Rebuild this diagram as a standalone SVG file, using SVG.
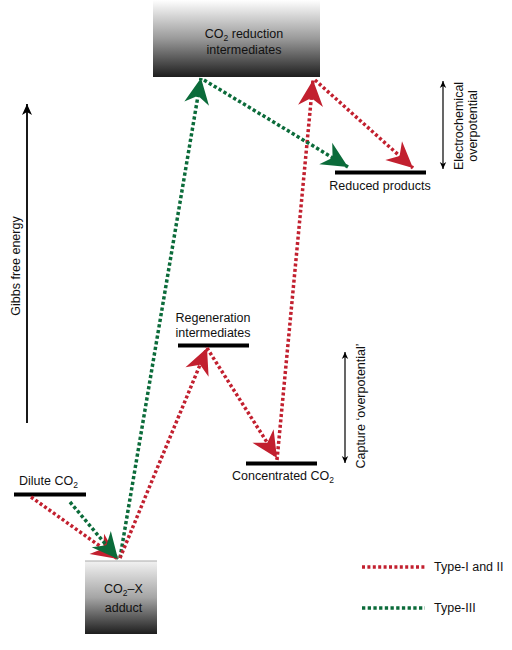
<svg xmlns="http://www.w3.org/2000/svg" width="512" height="650" viewBox="0 0 512 650">
<style>
text{font-family:"Liberation Sans",Arial,sans-serif;font-size:12.5px;fill:#111}
.bar{fill:#000}
.red{stroke:#c2202f;stroke-width:3.5;stroke-dasharray:3 2.4;fill:none}
.green{stroke:#0b6b3a;stroke-width:3.5;stroke-dasharray:3.3 2.4;fill:none}
.axis{stroke:#000;stroke-width:1.8;fill:none}
.thin{stroke:#000;stroke-width:1.2;fill:none}
</style>
<defs>
<linearGradient id="gTop" x1="0" y1="0" x2="0" y2="1">
<stop offset="0" stop-color="#ffffff"/>
<stop offset="0.5" stop-color="#9a9a9a"/>
<stop offset="1" stop-color="#1e1e1e"/>
</linearGradient>
<linearGradient id="gBot" x1="0" y1="0" x2="0" y2="1">
<stop offset="0" stop-color="#f2f2f2"/>
<stop offset="0.5" stop-color="#a5a5a5"/>
<stop offset="1" stop-color="#1e1e1e"/>
</linearGradient>
<marker id="aRed" markerUnits="userSpaceOnUse" viewBox="-27 -14 29 28" markerWidth="29" markerHeight="28" refX="0" refY="0" orient="auto">
<path d="M0,0 L-26,-12.5 L-18,0 L-26,12.5 Z" fill="#c2202f"/>
</marker>
<marker id="aGreen" markerUnits="userSpaceOnUse" viewBox="-27 -14 29 28" markerWidth="29" markerHeight="28" refX="0" refY="0" orient="auto">
<path d="M0,0 L-26,-12.5 L-18,0 L-26,12.5 Z" fill="#0b6b3a"/>
</marker>
<marker id="aBig" markerUnits="userSpaceOnUse" viewBox="-12 -6 13 12" markerWidth="13" markerHeight="12" refX="0" refY="0" orient="auto">
<path d="M0,0 L-11,-5 L-8,0 L-11,5 Z" fill="#000"/>
</marker>
<marker id="aSmall" markerUnits="userSpaceOnUse" viewBox="-8 -4 9 8" markerWidth="9" markerHeight="8" refX="0" refY="0" orient="auto-start-reverse">
<path d="M0,0 L-7,-3.2 L-5,0 L-7,3.2 Z" fill="#000"/>
</marker>
</defs>

<g id="co2-reduction-intermediates">
<rect x="153" y="0" width="167" height="77" fill="url(#gTop)"/>
<text x="244" y="38" text-anchor="middle">CO<tspan font-size="8.5" dy="3">2</tspan><tspan dy="-3"> reduction</tspan></text>
<text x="244" y="54" text-anchor="middle">intermediates</text>
</g>

<g id="reduced-products">
<rect class="bar" x="335" y="170.5" width="91" height="4"/>
<text x="380" y="190" text-anchor="middle">Reduced products</text>
</g>

<g id="regeneration-intermediates">
<rect class="bar" x="178" y="343.5" width="71" height="4"/>
<text x="213" y="322" text-anchor="middle">Regeneration</text>
<text x="213" y="337" text-anchor="middle">intermediates</text>
</g>

<g id="concentrated-co2">
<rect class="bar" x="246" y="461.5" width="71" height="4"/>
<text x="232" y="480">Concentrated CO<tspan font-size="8.5" dy="3">2</tspan></text>
</g>

<g id="dilute-co2">
<rect class="bar" x="14" y="492.5" width="72" height="4"/>
<text x="19" y="485">Dilute CO<tspan font-size="8.5" dy="3">2</tspan></text>
</g>

<g id="co2-x-adduct">
<rect x="85" y="561" width="72" height="73" fill="url(#gBot)"/>
<line x1="85" y1="561" x2="157" y2="561" stroke="#aaa" stroke-width="1"/>
<text x="104" y="593">CO<tspan font-size="8.5" dy="3">2</tspan><tspan dy="-3">–X</tspan></text>
<text x="123.5" y="612" text-anchor="middle">adduct</text>
</g>

<g id="connectors">
<line class="red" x1="31" y1="497" x2="118" y2="559" marker-end="url(#aRed)"/>
<line class="green" x1="70" y1="502" x2="118" y2="559" marker-end="url(#aGreen)"/>
<line class="green" x1="120" y1="558" x2="201" y2="78" marker-end="url(#aGreen)"/>
<line class="red" x1="120" y1="558" x2="207" y2="348" marker-end="url(#aRed)"/>
<line class="red" x1="207" y1="348" x2="277" y2="458" marker-end="url(#aRed)"/>
<line class="red" x1="277" y1="460" x2="313" y2="80" marker-end="url(#aRed)"/>
<line class="red" x1="315" y1="80" x2="413" y2="168" marker-end="url(#aRed)"/>
<line class="green" x1="204" y1="80" x2="348" y2="167" marker-end="url(#aGreen)"/>
</g>

<g id="gibbs-axis">
<line class="axis" x1="27" y1="423" x2="27" y2="104" marker-end="url(#aBig)"/>
<text transform="translate(20,266) rotate(-90)" text-anchor="middle">Gibbs free energy</text>
</g>

<g id="electrochemical-overpotential">
<line class="thin" x1="443" y1="81" x2="443" y2="169" marker-start="url(#aSmall)" marker-end="url(#aSmall)"/>
<text transform="translate(463,126) rotate(-90)" text-anchor="middle">Electrochemical</text>
<text transform="translate(477,126) rotate(-90)" text-anchor="middle">overpotential</text>
</g>

<g id="capture-overpotential">
<line class="thin" x1="345" y1="352" x2="345" y2="463" marker-start="url(#aSmall)" marker-end="url(#aSmall)"/>
<text transform="translate(365,406) rotate(-90)" text-anchor="middle">Capture ‘overpotential’</text>
</g>

<g id="legend">
<line class="red" x1="362" y1="567" x2="425" y2="567" stroke-dasharray="2.4 1.6"/>
<text x="434" y="571">Type-I and II</text>
<line class="green" x1="362" y1="608" x2="425" y2="608" stroke-dasharray="2.4 1.6"/>
<text x="434" y="612">Type-III</text>
</g>
</svg>
